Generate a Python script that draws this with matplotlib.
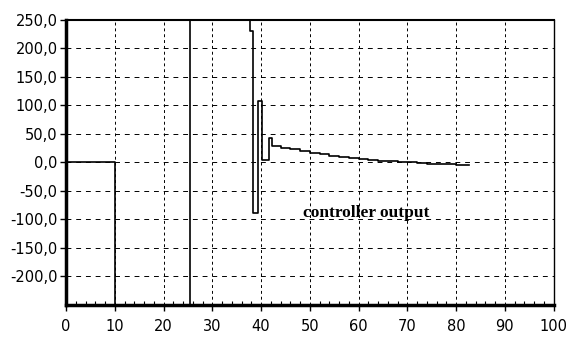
import matplotlib.pyplot as plt
from matplotlib.ticker import FixedLocator, MultipleLocator, FuncFormatter

# controller output (time, value), step-post
t = [0, 10, 25.5, 37.7, 38.3, 39.3, 40.2, 41.7, 42.3, 44, 46, 48, 50, 52, 54,
     56, 58, 60, 62, 64, 66, 68, 70, 72, 74, 76, 78, 80, 82.7]
u = [0, -250, 250, 230, -88, 107, 4, 43, 29, 26, 23, 20, 17, 14, 12,
     10, 8, 6, 4, 3, 2, 1, 0, -1, -2, -2, -3, -4, -4]

y_ticks = [-200, -150, -100, -50, 0, 50, 100, 150, 200, 250]
x_ticks = [0, 10, 20, 30, 40, 50, 60, 70, 80, 90, 100]

fig = plt.figure(figsize=(5.69, 3.38), dpi=100)
ax = fig.add_axes([0.116, 0.098, 0.857, 0.843])

ax.plot(t, u, drawstyle='steps-post', color='black', lw=1.2, zorder=3)

ax.set_xlim(0, 100)
ax.set_ylim(-250, 250)
ax.xaxis.set_major_locator(FixedLocator(x_ticks))
ax.xaxis.set_minor_locator(MultipleLocator(2))
ax.yaxis.set_major_locator(FixedLocator(y_ticks))
ax.yaxis.set_major_formatter(FuncFormatter(lambda v, p: f'{v:.1f}'.replace('.', ',')))

for x in x_ticks[1:-1]:
    ax.axvline(x, color='black', lw=0.7, ls=(0, (3, 3)), zorder=1)
for y in y_ticks[:-1]:
    ax.axhline(y, color='black', lw=0.7, ls=(0, (5, 5)), zorder=1)

ax.tick_params(axis='x', which='major', direction='out', length=4, width=1,
               labelsize=10.5, pad=6)
ax.tick_params(axis='x', which='minor', direction='in', length=3, width=0.8)
ax.tick_params(axis='y', which='major', direction='out', length=4, width=1,
               labelsize=10.5, pad=2)

ax.spines['left'].set_linewidth(2.5)
ax.spines['bottom'].set_linewidth(2.5)
ax.spines['top'].set_linewidth(1.5)
ax.spines['right'].set_linewidth(1.0)

ax.text(61.5, -88, 'controller output', family='Liberation Serif',
        fontweight='bold', fontsize=12.5, ha='center', va='center', zorder=4)

fig.savefig('out.png', dpi=100)
